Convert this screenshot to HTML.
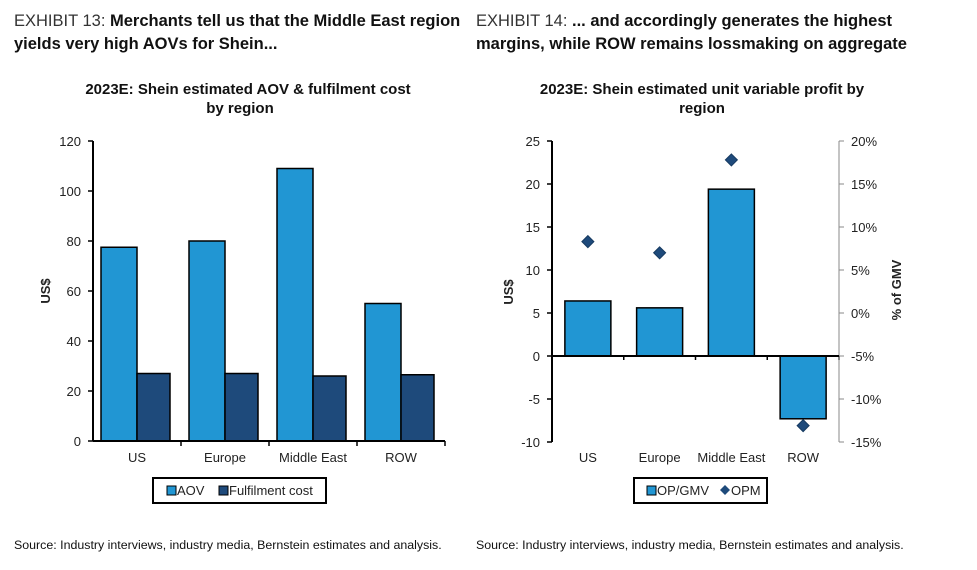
<!DOCTYPE html>
<html><head><meta charset="utf-8"><style>
body{margin:0;width:977px;height:570px;background:#fff;font-family:"Liberation Sans",sans-serif;position:relative;overflow:hidden}
.h{position:absolute;font-size:16.5px;line-height:23px;color:#111}
.h span{font-weight:normal;color:#333}
.src{position:absolute;top:538px;font-size:12.4px;color:#111}
svg{position:absolute;left:0;top:0}
svg text{font-family:"Liberation Sans",sans-serif}
</style></head><body>
<div class="h" style="left:14px;top:10px;font-weight:bold"><span>EXHIBIT 13: </span>Merchants tell us that the Middle East region<br>yields very high AOVs for Shein...</div>
<div class="h" style="left:476px;top:10px;font-weight:bold"><span>EXHIBIT 14: </span>... and accordingly generates the highest<br>margins, while ROW remains lossmaking on aggregate</div>
<div class="src" style="left:14px">Source: Industry interviews, industry media, Bernstein estimates and analysis.</div>
<div class="src" style="left:476px">Source: Industry interviews, industry media, Bernstein estimates and analysis.</div>
<svg id="s" width="977" height="570"></svg>
<script>
const cats=["US","Europe","Middle East","ROW"];
const aov=[77.5,80,109,55];
const fulfil=[27,27,26,26.5];
const leftTicks=[0,20,40,60,80,100,120];
const opgmv=[6.4,5.6,19.4,-7.3];
const opm=[8.3,7.0,17.8,-13.1];
const rightTicks=[-10,-5,0,5,10,15,20,25];
const pctTicks=[-15,-10,-5,0,5,10,15,20];
const s=document.getElementById('s');
const NS="http://www.w3.org/2000/svg";
function el(t,a,txt){const e=document.createElementNS(NS,t);for(const k in a)e.setAttribute(k,a[k]);if(txt!==undefined)e.textContent=txt;s.appendChild(e);return e;}
let t;
t=el('text',{x:248,y:94,'text-anchor':'middle','font-size':15,'font-weight':'bold',fill:'#111'},'2023E: Shein estimated AOV & fulfilment cost');

t=el('text',{x:240,y:113,'text-anchor':'middle','font-size':15,'font-weight':'bold',fill:'#111'},'by region');

t=el('text',{x:702,y:94,'text-anchor':'middle','font-size':15,'font-weight':'bold',fill:'#111'},'2023E: Shein estimated unit variable profit by');

t=el('text',{x:702,y:113,'text-anchor':'middle','font-size':15,'font-weight':'bold',fill:'#111'},'region');

const L={x0:93,x1:445,y0:441,y1:141,max:120};
const ly=v=>L.y0-(v/L.max)*(L.y0-L.y1);
const lcw=(L.x1-L.x0)/cats.length;
leftTicks.forEach(v=>{
 let g=el('line',{x1:L.x0-5,x2:L.x0,y1:ly(v),y2:ly(v),stroke:'#000','stroke-width':1.5});
 
 let tx=el('text',{x:L.x0-12,y:ly(v)+5,'text-anchor':'end','font-size':13,fill:'#222'},v);
 
});
cats.forEach((c,i)=>{
 const cx=L.x0+lcw*(i+0.5);
 let b=el('rect',{x:cx-36,y:ly(aov[i]),width:36,height:L.y0-ly(aov[i]),fill:'#2196d3',stroke:'#000','stroke-width':1.5});
 
 b=el('rect',{x:cx,y:ly(fulfil[i]),width:33,height:L.y0-ly(fulfil[i]),fill:'#1e4a7b',stroke:'#000','stroke-width':1.5});
 
 let tx=el('text',{x:cx,y:462,'text-anchor':'middle','font-size':13,fill:'#222'},c);
 
 let tk=el('line',{x1:L.x0+lcw*(i+1),x2:L.x0+lcw*(i+1),y1:L.y0,y2:L.y0+5,stroke:'#000','stroke-width':1.5});
 
});
let a=el('line',{x1:L.x0,x2:L.x0,y1:L.y1,y2:L.y0,stroke:'#000','stroke-width':2});

a=el('line',{x1:L.x0,x2:L.x1,y1:L.y0,y2:L.y0,stroke:'#000','stroke-width':2});

t=el('text',{x:50,y:291,'text-anchor':'middle','font-size':13,'font-weight':'bold',fill:'#222',transform:'rotate(-90 50 291)'},'US$');

let lg=el('rect',{x:153,y:478,width:173,height:25,fill:'#fff',stroke:'#000','stroke-width':2});

lg=el('rect',{x:167,y:486,width:9,height:9,fill:'#2196d3',stroke:'#000'});

lg=el('text',{x:177,y:495,'font-size':13,fill:'#222'},'AOV');

lg=el('rect',{x:219,y:486,width:9,height:9,fill:'#1e4a7b',stroke:'#000'});

lg=el('text',{x:229,y:495,'font-size':13,fill:'#222'},'Fulfilment cost');

const R={x0:552,x1:839,yTop:141,yBot:442,min:-10,max:25};
const ry=v=>R.yBot-((v-R.min)/(R.max-R.min))*(R.yBot-R.yTop);
const py=v=>R.yBot-((v+15)/35)*(R.yBot-R.yTop);
const rcw=(R.x1-R.x0)/cats.length;
rightTicks.forEach(v=>{
 let g=el('line',{x1:R.x0-5,x2:R.x0,y1:ry(v),y2:ry(v),stroke:'#000','stroke-width':1.5});
 
 let tx=el('text',{x:R.x0-12,y:ry(v)+5,'text-anchor':'end','font-size':13,fill:'#222'},v);
 
});
pctTicks.forEach(v=>{
 let g=el('line',{x1:R.x1,x2:R.x1+5,y1:py(v),y2:py(v),stroke:'#888','stroke-width':1});
 
 let tx=el('text',{x:R.x1+12,y:py(v)+5,'font-size':13,fill:'#222'},v+'%');
 
});
cats.forEach((c,i)=>{
 const cx=R.x0+rcw*(i+0.5);
 const top=Math.min(ry(opgmv[i]),ry(0)),h=Math.abs(ry(opgmv[i])-ry(0));
 let b=el('rect',{x:cx-23,y:top,width:46,height:h,fill:'#2196d3',stroke:'#000','stroke-width':1.5});
 
 const yy=py(opm[i]);
 let d=el('path',{d:`M${cx} ${yy-6}L${cx+6} ${yy}L${cx} ${yy+6}L${cx-6} ${yy}Z`,fill:'#1e4a7b',stroke:'#163a60'});
 
 let tx=el('text',{x:cx,y:462,'text-anchor':'middle','font-size':13,fill:'#222'},c);
 
 let tk=el('line',{x1:R.x0+rcw*(i+1),x2:R.x0+rcw*(i+1),y1:ry(0),y2:ry(0)+4,stroke:'#000','stroke-width':1.5});
 
});
a=el('line',{x1:R.x0,x2:R.x0,y1:R.yTop,y2:R.yBot,stroke:'#000','stroke-width':2});

a=el('line',{x1:R.x1,x2:R.x1,y1:R.yTop,y2:R.yBot,stroke:'#888','stroke-width':1});

a=el('line',{x1:R.x0,x2:R.x1,y1:ry(0),y2:ry(0),stroke:'#000','stroke-width':2});

t=el('text',{x:513,y:292,'text-anchor':'middle','font-size':13,'font-weight':'bold',fill:'#222',transform:'rotate(-90 513 292)'},'US$');

t=el('text',{x:901,y:290,'text-anchor':'middle','font-size':13,'font-weight':'bold',fill:'#222',transform:'rotate(-90 901 290)'},'% of GMV');

lg=el('rect',{x:634,y:478,width:133,height:25,fill:'#fff',stroke:'#000','stroke-width':2});

lg=el('rect',{x:647,y:486,width:9,height:9,fill:'#2196d3',stroke:'#000'});

lg=el('text',{x:657,y:495,'font-size':13,fill:'#222'},'OP/GMV');

lg=el('path',{d:'M725 485L730 490L725 495L720 490Z',fill:'#1e4a7b'});

lg=el('text',{x:731,y:495,'font-size':13,fill:'#222'},'OPM');

</script>
</body></html>
